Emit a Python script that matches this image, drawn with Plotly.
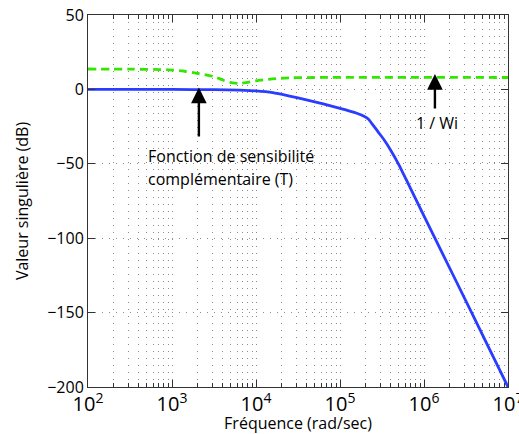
import plotly.graph_objects as go

# Frequency grid (rad/sec) and singular values (dB)
freq_T = [1e2, 1e3, 3.162e3, 6.31e3, 1e4, 1.585e4, 2.512e4, 3.981e4, 6.31e4,
          1e5, 1.585e5, 1.905e5, 2.188e5, 2.512e5, 2.884e5, 3.311e5, 3.981e5,
          5.012e5, 6.31e5, 1.349e6, 3.69e6, 1e7]
sv_T = [0.0, 0.0, -0.2, -0.5, -1.0, -2.2, -4.5, -7.0, -9.8,
        -12.7, -16.0, -17.8, -20.0, -24.5, -29.0, -33.5, -40.5,
        -50.5, -62.0, -100.0, -150.0, -200.0]

freq_Wi = [1e2, 3.162e2, 7.943e2, 1e3, 1.413e3, 1.995e3, 3.162e3, 4.169e3,
           5.248e3, 6.31e3, 7.943e3, 1e4, 1.413e4, 1.995e4, 3.162e4, 1e7]
sv_Wi = [13.7, 13.6, 13.3, 13.0, 12.2, 10.8, 8.6, 6.0,
         4.4, 4.0, 4.8, 5.8, 6.8, 7.5, 7.9, 8.0]

y_ticks = [50, 0, -50, -100, -150, -200]

FONT = "Open Sans"
GRID = "#8c8c8c"
AX = "#333333"

fig = go.Figure()
fig.add_trace(go.Scatter(x=freq_Wi, y=sv_Wi, mode="lines",
                         line=dict(color="#33e600", width=2.8, dash="8px,5px",
                                   shape="spline", smoothing=0.8),
                         hoverinfo="skip"))
fig.add_trace(go.Scatter(x=freq_T, y=sv_T, mode="lines",
                         line=dict(color="#2a3cff", width=2.8,
                                   shape="spline", smoothing=0.4),
                         hoverinfo="skip"))

arrow = dict(showarrow=True, arrowhead=2, arrowsize=1.3, arrowwidth=2.4,
             arrowcolor="black", axref="x", ayref="y", text="")
fig.add_annotation(x=3.32, y=1.2, ax=3.32, ay=-32.6, **arrow)
fig.add_annotation(x=6.13, y=10.3, ax=6.13, ay=-13.8, **arrow)

txt = dict(showarrow=False, xanchor="left", yanchor="middle",
           font=dict(family=FONT, size=16, color="black"))
fig.add_annotation(x=2.69, y=-44.5, text="Fonction de sensibilité", **txt)
fig.add_annotation(x=2.69, y=-60.5, text="complémentaire (T)", **txt)
fig.add_annotation(x=6.155, y=-22.6, text="1 / Wi", showarrow=False,
                   xanchor="center", yanchor="middle",
                   font=dict(family=FONT, size=16, color="black"))

fig.update_layout(
    width=519, height=434,
    margin=dict(l=88, r=11, t=15, b=47),
    paper_bgcolor="white", plot_bgcolor="white",
    showlegend=False,
    font=dict(family=FONT, size=16, color="black"),
)
fig.update_xaxes(
    type="log", range=[2, 7], dtick=1, exponentformat="power",
    automargin=False, ticklabeloverflow="allow",
    showline=True, linecolor=AX, linewidth=1, mirror="ticks",
    ticks="inside", ticklen=7, tickcolor=AX,
    showgrid=True, gridcolor=GRID, griddash="1px,6px", gridwidth=1,
    minor=dict(ticks="inside", ticklen=4, tickcolor=AX,
               showgrid=True, gridcolor=GRID, griddash="1px,6px", gridwidth=1),
    zeroline=False,
    title=dict(text="Fréquence (rad/sec)", font=dict(size=16), standoff=2),
    tickfont=dict(size=16),
)
fig.update_yaxes(
    range=[-200, 50], tickvals=y_ticks,
    automargin=False,
    showline=True, linecolor=AX, linewidth=1, mirror="ticks",
    ticks="inside", ticklen=7, tickcolor=AX,
    showgrid=True, gridcolor=GRID, griddash="1px,6px", gridwidth=1,
    zeroline=False,
    title=dict(text="Valeur singulière (dB)", font=dict(size=16), standoff=14),
    tickfont=dict(size=16),
)

fig.write_html("out.html")
